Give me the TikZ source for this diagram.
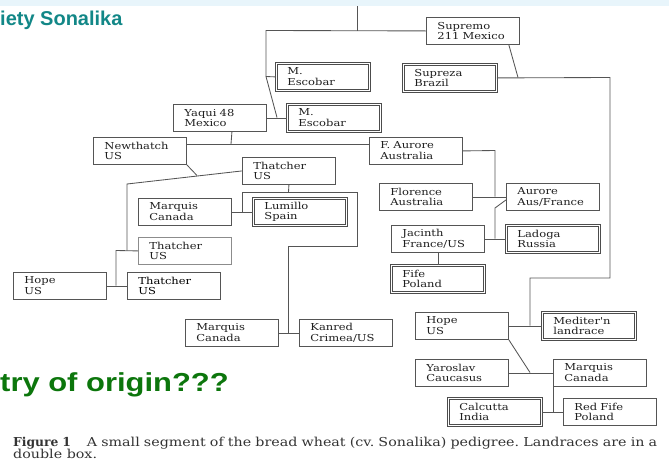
\documentclass[tikz,border=0pt]{standalone}
\usepackage{fontspec}
\setmainfont{DejaVu Serif}
\newfontfamily\slidefont{Liberation Sans}
\newfontfamily\boxfont[FakeStretch=1.2]{DejaVu Serif}
\newfontfamily\capfont[FakeStretch=1.16]{DejaVu Serif}
\usepackage{xcolor}
\usetikzlibrary{calc}
\definecolor{stripblue}{RGB}{232,245,251}
\definecolor{titleteal}{RGB}{18,135,135}
\definecolor{origingreen}{RGB}{12,118,12}
\definecolor{linegray}{RGB}{85,85,85}

\begin{document}
\begin{tikzpicture}[x=1pt,y=-1pt,
  var/.style={draw=linegray, line width=0.85pt, anchor=north west, minimum height=27pt,
    text width=71pt, inner xsep=11pt, inner ysep=0pt, align=left, text=black!88,
    font=\boxfont\fontsize{9.6}{10.8}\selectfont},
  land/.style={var, draw=black!70, double=white, double distance=1.1pt},
  link/.style={draw=linegray, line width=0.85pt}]
  \useasboundingbox (0,0) rectangle (669,461);
  % Slide strip and titles
  \fill[stripblue] (0,0) rectangle (669,6);
  \node[anchor=base west, inner sep=0, text=titleteal] (title) at (0,25)
    {\slidefont\bfseries\fontsize{20}{22}\selectfont iety Sonalika};
  \node[anchor=base west, inner sep=0, text=origingreen] (origin) at (0,391)
    {\scalebox{1.19}[1]{\slidefont\bfseries\fontsize{26}{28}\selectfont try of origin???}};

  % Varieties (double box = landrace)
  \node[var]  (supremo)   at (426,17)  {Supremo\\211 Mexico};
  \node[land] (supreza)   at (403,64)  {Supreza\\Brazil};
  \node[land] (escobarA)  at (276,63)  {M.\\Escobar};
  \node[land] (escobarB)  at (287,104) {M.\\Escobar};
  \node[var]  (yaqui)     at (173,104) {Yaqui 48\\Mexico};
  \node[var]  (newthatch) at (93,137)  {Newthatch\\US};
  \node[var]  (aurorF)    at (369,137) {F. Aurore\\Australia};
  \node[var]  (thatcherA) at (242,157) {Thatcher\\US};
  \node[var]  (marquisA)  at (138,198) {Marquis\\Canada};
  \node[land] (lumillo)   at (253,198) {Lumillo\\Spain};
  \node[var, draw=black!45] (thatcherB) at (138,237) {Thatcher\\US};
  \node[var]  (hopeA)     at (13,272)  {Hope\\US};
  \node[var, text=black] (thatcherC) at (127,272) {Thatcher\\US};
  \node[var]  (florence)  at (379,183) {Florence\\Australia};
  \node[var]  (aurore)    at (506,183) {Aurore\\Aus/France};
  \node[var]  (jacinth)   at (391,225) {Jacinth\\France/US};
  \node[land] (ladoga)    at (506,225) {Ladoga\\Russia};
  \node[land] (fife)      at (391,265) {Fife\\Poland};
  \node[var]  (marquisB)  at (185,319) {Marquis\\Canada};
  \node[var]  (kanred)    at (299,319) {Kanred\\Crimea/US};
  \node[var]  (hopeB)     at (415,312) {Hope\\US};
  \node[land] (mediter)   at (542,312) {Mediter'n\\landrace};
  \node[var]  (yaroslav)  at (415,359) {Yaroslav\\Caucasus};
  \node[var]  (marquisC)  at (553,359) {Marquis\\Canada};
  \node[land] (calcutta)  at (448,398) {Calcutta\\India};
  \node[var]  (redfife)   at (563,398) {Red Fife\\Poland};

  % Junction points
  \coordinate (jTop)  at (357,6);
  \coordinate (jS)    at (357,30.5);
  \coordinate (jEsc)  at (266,30.5);
  \coordinate (jEscA) at (266,76.5);
  \coordinate (jEscB) at (277,117.5);
  \coordinate (jSup)  at (518,77.5);
  \coordinate (jSupR) at (610,77.5);
  \coordinate (jMedA) at (610,278);
  \coordinate (jMedB) at (530,278);
  \coordinate (jMed)  at (530,325.5);
  \coordinate (jYaq)  at (231,144);
  \coordinate (jNew)  at (197,175.5);
  \coordinate (jTh)   at (127,184);
  \coordinate (jThB)  at (127,250.5);
  \coordinate (jHope) at (116,250.5);
  \coordinate (jHopeB) at (116,285.5);
  \coordinate (jThat) at (288.5,192);
  \coordinate (jLum)  at (242,211.5);
  \coordinate (jLumT) at (242,192);
  \coordinate (jKanA) at (357,192);
  \coordinate (jKanB) at (357,246);
  \coordinate (jKanC) at (288,246);
  \coordinate (jKan)  at (288,332.5);
  \coordinate (jAur)  at (495,150.5);
  \coordinate (jFlo)  at (495,196.5);
  \coordinate (jLad)  at (495,238.5);
  \coordinate (jLadT) at (495,208);
  \coordinate (jYar)  at (530,372.5);
  \coordinate (jCal)  at (553,411.5);

  % Sonalika's parents
  \draw[link] (jTop) -- (jS);
  \draw[link] (supremo.west) -- (jEsc) -- (jEscA) -- (escobarA.west);
  \draw[link] (jEscA) -- (jEscB);
  \draw[link] (yaqui.east) -- (escobarB.west);
  \draw[link] ($(supremo.south east)+(-11,0)$) -- (jSup);
  \draw[link] (supreza.east) -- (jSupR) -- (jMedA) -- (jMedB) -- (jMed);
  \draw[link] (hopeB.east) -- (mediter.west);
  % Yaqui 48
  \draw[link] ($(yaqui.south)+(12,0)$) -- (jYaq);
  \draw[link] ($(newthatch.north east)+(0,7)$) -- ($(aurorF.north west)+(0,7)$);
  % Newthatch
  \draw[link] (newthatch.south east) -- (jNew);
  \draw[link] (thatcherA.west) -- (jTh) -- (jThB);
  \draw[link] (thatcherB.west) -- (jHope) -- (jHopeB);
  \draw[link] (hopeA.east) -- (thatcherC.west);
  % Thatcher
  \draw[link] (thatcherA.south) -- (jThat);
  \draw[link] (jLum) -- (jLumT) -- (jKanA) -- (jKanB) -- (jKanC) -- (jKan);
  \draw[link] (marquisA.east) -- (lumillo.west);
  \draw[link] (marquisB.east) -- (kanred.west);
  % F. Aurore
  \draw[link] (aurorF.east) -- (jAur) -- (jFlo);
  \draw[link] (florence.east) -- (aurore.west);
  \draw[link] (jLad) -- (jLadT) -- ($(aurore.west)+(0,3)$);
  \draw[link] (jacinth.east) -- (ladoga.west);
  \draw[link] (jacinth.south) -- (fife.north);
  % Hope
  \draw[link] (hopeB.south east) -- (jYar);
  \draw[link] (yaroslav.east) -- (marquisC.west);
  \draw[link] (marquisC.south west) -- (jCal);
  \draw[link] (calcutta.east) -- (redfife.west);

  % Caption
  \node[anchor=base west, inner sep=0, text=black!80] (cap) at (13,446)
    {\fontsize{12.3}{13}\selectfont\frenchspacing\makebox[644pt][s]{\textbf{Figure 1}\hspace{16pt}\capfont A small segment of the bread wheat (cv. Sonalika) pedigree. Landraces are in a}};
  \node[anchor=base west, inner sep=0, text=black!80] (cap2) at (13,458)
    {\capfont\fontsize{12.3}{13}\selectfont double box.};
\end{tikzpicture}
\end{document}
